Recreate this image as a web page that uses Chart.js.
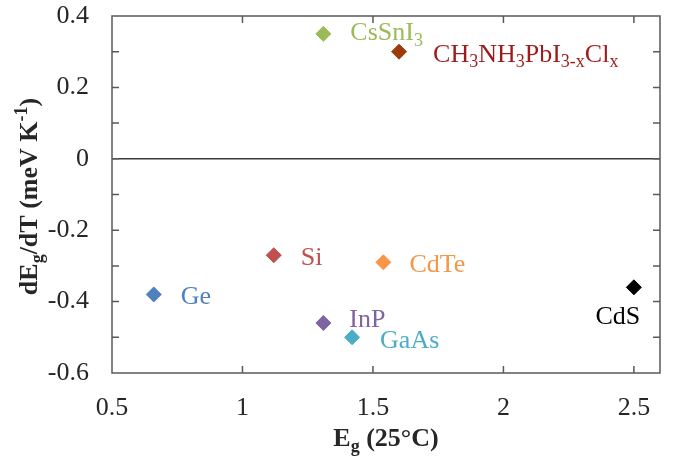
<!DOCTYPE html>
<html>
<head>
<meta charset="utf-8">
<script src="https://cdn.jsdelivr.net/npm/chart.js@4.4.1/dist/chart.umd.min.js"></script>
<style>
  html, body { margin: 0; padding: 0; background: #ffffff; }
  #wrap { width: 682px; height: 456px; }
</style>
</head>
<body>
<div id="wrap"><canvas id="chart" width="682" height="456"></canvas></div>
<script>
// Band gap at 25 °C and its temperature coefficient for each semiconductor
const materials = ['Ge', 'Si', 'InP', 'GaAs', 'CdTe', 'CdS', 'CsSnI3', 'CH3NH3PbI3-xClx'];
const bandGap = [0.66, 1.12, 1.31, 1.42, 1.54, 2.50, 1.31, 1.60];
const dEgdT = [-0.38, -0.27, -0.46, -0.50, -0.29, -0.36, 0.35, 0.30];

// Label text with _{sub} / ^{sup} markup
const labelMarkup = ['Ge', 'Si', 'InP', 'GaAs', 'CdTe', 'CdS', 'CsSnI_{3}', 'CH_{3}NH_{3}PbI_{3-x}Cl_{x}'];

// Axis tick values
const xTickValues = [0.5, 1, 1.5, 2, 2.5];
const yMin = -0.6, yMax = 0.4, yStep = 0.1;
const xMin = 0.5, xMax = 2.6;

// Styling
const markerColors = ['#4f81bd', '#c0504d', '#8064a2', '#4bacc6', '#f79646', '#000000', '#9bbb59', '#9c3a0a'];
const labelColors  = ['#4f81bd', '#c0504d', '#8064a2', '#4bacc6', '#f79646', '#000000', '#9bbb59', '#9b1c1c'];
// [dx from marker to text, dy from marker to baseline, alignment]
const labelPlacement = [
  [27, 10, 'left'], [27, 10, 'left'], [26, 4, 'left'], [28, 11, 'left'],
  [26, 10, 'left'], [-16, 37, 'center'], [27, 6, 'left'], [34, 10, 'left']
];

const SERIF = '"Liberation Serif", "Times New Roman", serif';
const FRAME = '#595959';
const TEXT = '#262626';
const FONT_SIZE = 26;

function parseMarkup(s) {
  const segs = [];
  const re = /([_^])\{([^}]*)\}/g;
  let last = 0, m;
  while ((m = re.exec(s)) !== null) {
    if (m.index > last) segs.push({ t: s.slice(last, m.index), mode: 'n' });
    segs.push({ t: m[2], mode: m[1] === '_' ? 'sub' : 'sup' });
    last = re.lastIndex;
  }
  if (last < s.length) segs.push({ t: s.slice(last), mode: 'n' });
  return segs;
}

function segFont(mode, size, weight) {
  const sz = mode === 'n' ? size : Math.round(size * 0.68);
  return `${weight} ${sz}px ${SERIF}`;
}

function richWidth(ctx, segs, size, weight) {
  let w = 0;
  for (const s of segs) { ctx.font = segFont(s.mode, size, weight); w += ctx.measureText(s.t).width; }
  return w;
}

function drawRich(ctx, markup, x, baseline, size, weight, color, align) {
  const segs = parseMarkup(markup);
  ctx.save();
  ctx.fillStyle = color;
  ctx.textBaseline = 'alphabetic';
  ctx.textAlign = 'left';
  const w = richWidth(ctx, segs, size, weight);
  let cx = align === 'center' ? x - w / 2 : x;
  for (const s of segs) {
    ctx.font = segFont(s.mode, size, weight);
    let dy = 0;
    if (s.mode === 'sub') dy = size * 0.22;
    if (s.mode === 'sup') dy = -size * 0.38;
    ctx.fillText(s.t, cx, baseline + dy);
    cx += ctx.measureText(s.t).width;
  }
  ctx.restore();
}

const framePlugin = {
  id: 'frameAndLabels',
  afterDatasetsDraw(chart) {
    const { ctx, chartArea: a, scales } = chart;
    const xs = scales.x, ys = scales.y;
    ctx.save();
    // zero line
    const y0 = ys.getPixelForValue(0);
    ctx.strokeStyle = '#3a3a3a';
    ctx.lineWidth = 1.5;
    ctx.beginPath();
    ctx.moveTo(a.left, y0); ctx.lineTo(a.right, y0);
    ctx.stroke();

    // frame
    ctx.strokeStyle = FRAME;
    ctx.lineWidth = 1.5;
    ctx.strokeRect(a.left, a.top, a.right - a.left, a.bottom - a.top);

    // inward tick marks
    const tl = 7;
    ctx.beginPath();
    xTickValues.forEach(v => {
      const px = xs.getPixelForValue(v);
      if (px <= a.left + 1 || px >= a.right - 1) return;
      ctx.moveTo(px, a.bottom); ctx.lineTo(px, a.bottom - tl);
      ctx.moveTo(px, a.top); ctx.lineTo(px, a.top + tl);
    });
    ys.ticks.forEach(t => {
      const py = ys.getPixelForValue(t.value);
      if (py <= a.top + 1 || py >= a.bottom - 1) return;
      ctx.moveTo(a.left, py); ctx.lineTo(a.left + tl, py);
      ctx.moveTo(a.right, py); ctx.lineTo(a.right - tl, py);
    });
    ctx.stroke();
    ctx.restore();

    // point labels
    const meta = chart.getDatasetMeta(0);
    meta.data.forEach((pt, i) => {
      const [dx, dy, align] = labelPlacement[i];
      drawRich(ctx, labelMarkup[i], pt.x + dx, pt.y + dy, FONT_SIZE, 'normal', labelColors[i], align);
    });

    // axis titles
    const midX = (a.left + a.right) / 2;
    drawRich(ctx, 'E_{g} (25°C)', midX, 446, FONT_SIZE, 'bold', TEXT, 'center');
    ctx.save();
    ctx.translate(37, (a.top + a.bottom) / 2 + 2);
    ctx.rotate(-Math.PI / 2);
    drawRich(ctx, 'dE_{g}/dT (meV K^{-1})', 0, 0, FONT_SIZE, 'bold', TEXT, 'center');
    ctx.restore();
  }
};

new Chart(document.getElementById('chart'), {
  type: 'scatter',
  data: {
    datasets: [{
      label: 'dEg/dT',
      data: bandGap.map((x, i) => ({ x, y: dEgdT[i] })),
      backgroundColor: markerColors,
      borderColor: markerColors,
      borderWidth: 1,
      pointStyle: 'rectRot',
      pointRadius: 7.5,
      pointHoverRadius: 7.5
    }]
  },
  options: {
    responsive: false,
    animation: false,
    events: [],
    layout: { padding: { top: 16, right: 22, left: 0, bottom: 0 } },
    plugins: { legend: { display: false }, tooltip: { enabled: false } },
    scales: {
      x: {
        type: 'linear',
        min: xMin, max: xMax,
        grid: { display: false, drawTicks: false },
        border: { display: false },
        afterBuildTicks(scale) { scale.ticks = xTickValues.map(v => ({ value: v })); },
        afterFit(scale) { scale.height = 83; scale.paddingLeft = 0; scale.paddingRight = 0; },
        ticks: {
          padding: 20,
          color: TEXT,
          font: { family: SERIF, size: FONT_SIZE },
          callback: v => String(v)
        }
      },
      y: {
        type: 'linear',
        min: yMin, max: yMax,
        grid: { display: false, drawTicks: false },
        border: { display: false },
        afterFit(scale) { scale.width = 112; scale.paddingTop = 0; scale.paddingBottom = 0; },
        ticks: {
          stepSize: yStep,
          padding: 23,
          color: TEXT,
          font: { family: SERIF, size: FONT_SIZE },
          callback: v => {
            const k = Math.round(v * 10);
            return k % 2 === 0 ? String(k / 10) : '';
          }
        }
      }
    }
  },
  plugins: [framePlugin]
});
</script>
</body>
</html>
